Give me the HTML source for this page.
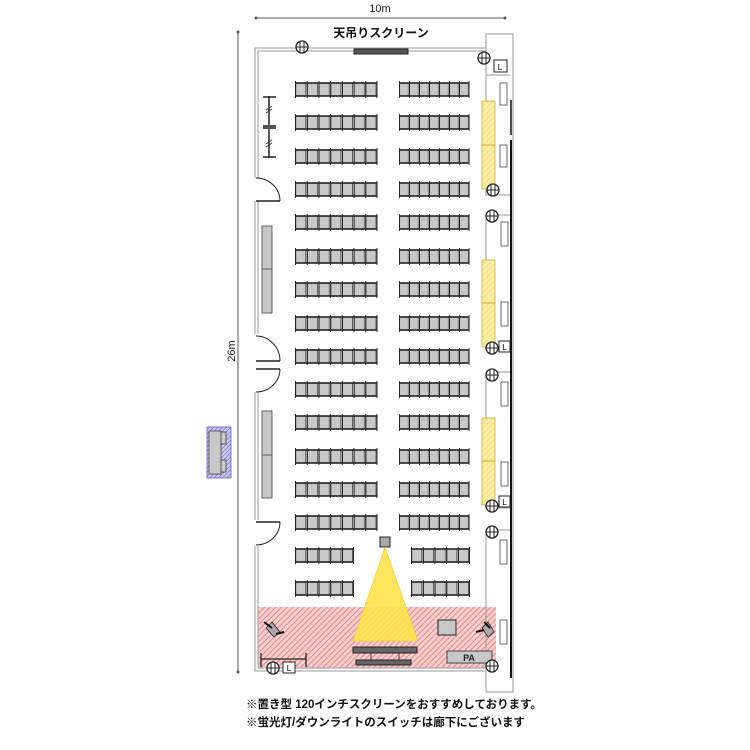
<!DOCTYPE html>
<html><head><meta charset="utf-8"><style>
html,body{margin:0;padding:0;background:#fff;}
svg{display:block;}
text{font-family:"Liberation Sans","Noto Sans CJK JP",sans-serif;}
</style></head><body>
<svg width="750" height="750" viewBox="0 0 750 750" xmlns="http://www.w3.org/2000/svg">
<defs>
<g id="ch">
<rect x="0.8" y="2" width="10" height="13" fill="#c8c8c8" stroke="#444" stroke-width="0.8"/>
<line x1="0" y1="2" x2="11.7" y2="2" stroke="#222" stroke-width="1.6"/>
<line x1="0" y1="15" x2="11.7" y2="15" stroke="#222" stroke-width="1.6"/>
<line x1="0.5" y1="0" x2="0.5" y2="17" stroke="#222" stroke-width="1"/>
</g>
<g id="r7">
<use href="#ch" x="0"/><use href="#ch" x="11.7"/><use href="#ch" x="23.4"/><use href="#ch" x="35.1"/><use href="#ch" x="46.8"/><use href="#ch" x="58.5"/><use href="#ch" x="70.2"/>
<line x1="82" y1="0" x2="82" y2="17" stroke="#222" stroke-width="1"/>
</g>
<g id="r7s" transform="scale(0.855,1)"><use href="#r7"/></g>
<g id="r5">
<use href="#ch" x="0"/><use href="#ch" x="11.7"/><use href="#ch" x="23.4"/><use href="#ch" x="35.1"/><use href="#ch" x="46.8"/>
<line x1="58.5" y1="0" x2="58.5" y2="17" stroke="#222" stroke-width="1"/>
</g>
<pattern id="hatch" width="4" height="4" patternUnits="userSpaceOnUse" patternTransform="rotate(45)">
<rect width="4" height="4" fill="#f7d0d0"/><line x1="0" y1="0" x2="0" y2="4" stroke="#e87070" stroke-width="1.6"/>
</pattern>
<pattern id="bhatch" width="3" height="3" patternUnits="userSpaceOnUse" patternTransform="rotate(45)">
<rect width="3" height="3" fill="#c8c8f0"/><line x1="0" y1="0" x2="0" y2="3" stroke="#5050c0" stroke-width="1"/>
</pattern>
<pattern id="yhatch" width="4" height="4" patternUnits="userSpaceOnUse" patternTransform="rotate(45)">
<rect width="4" height="4" fill="#fbeea0"/><line x1="0" y1="0" x2="0" y2="4" stroke="#e8d070" stroke-width="1"/>
</pattern>
<g id="out"><circle cx="0" cy="0" r="6" fill="#fff" stroke="#222" stroke-width="1.3"/><line x1="-2" y1="-5" x2="-2" y2="5" stroke="#222"/><line x1="2" y1="-5" x2="2" y2="5" stroke="#222"/><line x1="-6" y1="0" x2="6" y2="0" stroke="#222"/></g>
</defs>

<line x1="256" y1="18" x2="505" y2="18" stroke="#555" stroke-width="1"/>
<circle cx="256" cy="18" r="1.5" fill="#555"/><circle cx="505" cy="18" r="1.5" fill="#555"/>
<text x="380" y="12" font-size="11" text-anchor="middle" fill="#222">10m</text>
<line x1="238" y1="32" x2="238" y2="672" stroke="#555" stroke-width="1"/>
<circle cx="238" cy="32" r="1.5" fill="#555"/><circle cx="238" cy="672" r="1.5" fill="#555"/>
<text x="0" y="0" font-size="11" text-anchor="middle" fill="#222" transform="translate(235,351) rotate(-90)">26m</text>
<text x="381" y="37" font-size="12" font-weight="bold" text-anchor="middle" fill="#111">天吊りスクリーン</text>

<rect x="207" y="427" width="24" height="51" fill="url(#bhatch)" stroke="#6060c0" stroke-width="0.8"/>
<rect x="209" y="431" width="12" height="43" fill="#c8c8c8" stroke="#444" stroke-width="0.8"/>
<rect x="221" y="432" width="5" height="12" fill="#c8c8c8" stroke="#444" stroke-width="0.8"/>
<rect x="221" y="460" width="5" height="12" fill="#c8c8c8" stroke="#444" stroke-width="0.8"/>

<rect x="258" y="607" width="238" height="61" fill="url(#hatch)"/>

<g fill="none" stroke="#999" stroke-width="1">
<path d="M255 178 V48 H486 V34 H513"/>
<path d="M258 178 V51 H486"/>
<path d="M255 201 V334 M258 201 V334"/>
<path d="M255 392 V520 M258 392 V520"/>
<path d="M255 546 V671 H485 M258 546 V668 H486"/>
<path d="M486 48 V75 H510 M486 668 V692 H513 V34"/>
<path d="M486 75 V195 H510 M486 215 V350 H510 M486 372 V508 H510 M486 530 V668"/>
<path d="M486 215 H510 M486 372 H510 M486 530 H510"/>
</g>
<line x1="511" y1="140" x2="511" y2="678" stroke="#111" stroke-width="2"/>
<line x1="511" y1="100" x2="511" y2="135" stroke="#111" stroke-width="1.5"/>

<g fill="none" stroke="#222" stroke-width="1">
<line x1="256" y1="201" x2="280" y2="201" stroke-width="1.5"/><path d="M256 178 A24 23 0 0 1 280 201"/>
<line x1="256" y1="361" x2="280" y2="361" stroke-width="1.5"/><path d="M256 336 A24 25 0 0 1 280 361"/>
<line x1="256" y1="369" x2="280" y2="369" stroke-width="1.5"/><path d="M280 369 A24 23 0 0 1 256 392"/>
<line x1="256" y1="522" x2="280" y2="522" stroke-width="1.5"/><path d="M280 522 A24 23 0 0 1 256 545"/>
</g>

<rect x="262" y="226" width="10" height="87" fill="#c8c8c8" stroke="#444" stroke-width="0.8"/>
<line x1="262" y1="269" x2="272" y2="269" stroke="#444" stroke-width="0.8"/>
<rect x="262" y="411" width="10" height="87" fill="#c8c8c8" stroke="#444" stroke-width="0.8"/>
<line x1="262" y1="455" x2="272" y2="455" stroke="#444" stroke-width="0.8"/>
<g stroke="#222" stroke-width="1.5"><line x1="269" y1="96" x2="269" y2="158"/><line x1="263" y1="97" x2="276" y2="97"/><line x1="263" y1="157" x2="276" y2="157"/></g>
<rect x="263" y="125" width="13" height="4" fill="#555"/>
<g stroke="#333" stroke-width="0.8"><line x1="266" y1="110" x2="272" y2="106"/><line x1="266" y1="113" x2="272" y2="109"/><line x1="266" y1="144" x2="272" y2="140"/><line x1="266" y1="147" x2="272" y2="143"/></g>

<rect x="354" y="49" width="54" height="5" fill="#555" stroke="#222"/>
<use href="#out" x="302" y="47"/>
<use href="#out" x="484" y="58"/>
<rect x="494" y="60" width="13" height="12" fill="#fff" stroke="#222"/><text x="500" y="70" font-size="8" text-anchor="middle">L</text>

<g>
<use href="#r7" x="295" y="81"/><use href="#r7s" transform="translate(399,81)"/>
<use href="#r7" x="295" y="114"/><use href="#r7s" transform="translate(399,114)"/>
<use href="#r7" x="295" y="148"/><use href="#r7s" transform="translate(399,148)"/>
<use href="#r7" x="295" y="181"/><use href="#r7s" transform="translate(399,181)"/>
<use href="#r7" x="295" y="214"/><use href="#r7s" transform="translate(399,214)"/>
<use href="#r7" x="295" y="248"/><use href="#r7s" transform="translate(399,248)"/>
<use href="#r7" x="295" y="281"/><use href="#r7s" transform="translate(399,281)"/>
<use href="#r7" x="295" y="315"/><use href="#r7s" transform="translate(399,315)"/>
<use href="#r7" x="295" y="348"/><use href="#r7s" transform="translate(399,348)"/>
<use href="#r7" x="295" y="381"/><use href="#r7s" transform="translate(399,381)"/>
<use href="#r7" x="295" y="414"/><use href="#r7s" transform="translate(399,414)"/>
<use href="#r7" x="295" y="448"/><use href="#r7s" transform="translate(399,448)"/>
<use href="#r7" x="295" y="481"/><use href="#r7s" transform="translate(399,481)"/>
<use href="#r7" x="295" y="514"/><use href="#r7s" transform="translate(399,514)"/>
<use href="#r5" x="295" y="547"/><use href="#r5" x="411" y="547"/>
<use href="#r5" x="295" y="580"/><use href="#r5" x="411" y="580"/>
</g>

<rect x="482" y="101" width="13" height="88" fill="url(#yhatch)" stroke="#c8b040" stroke-width="0.8"/><line x1="482" y1="145" x2="495" y2="145" stroke="#c8b040"/>
<rect x="482" y="260" width="13" height="87" fill="url(#yhatch)" stroke="#c8b040" stroke-width="0.8"/><line x1="482" y1="303" x2="495" y2="303" stroke="#c8b040"/>
<rect x="482" y="418" width="13" height="87" fill="url(#yhatch)" stroke="#c8b040" stroke-width="0.8"/><line x1="482" y1="461" x2="495" y2="461" stroke="#c8b040"/>
<g fill="#fff" stroke="#444" stroke-width="0.8">
<rect x="500" y="83" width="7" height="22"/><rect x="500" y="145" width="7" height="22"/>
<rect x="501" y="222" width="7" height="24"/><rect x="501" y="302" width="7" height="24"/>
<rect x="501" y="382" width="7" height="24"/><rect x="501" y="462" width="7" height="24"/>
<rect x="500" y="540" width="7" height="24"/><rect x="500" y="620" width="7" height="24"/>
</g>
<use href="#out" x="493" y="190"/><use href="#out" x="492" y="216"/>
<use href="#out" x="492" y="348"/><use href="#out" x="492" y="375"/>
<use href="#out" x="492" y="506"/><use href="#out" x="492" y="532"/>
<rect x="499" y="341" width="11" height="11" fill="#fff" stroke="#222"/><text x="504.5" y="350" font-size="8" text-anchor="middle">L</text>
<rect x="499" y="496" width="11" height="11" fill="#fff" stroke="#222"/><text x="504.5" y="505" font-size="8" text-anchor="middle">L</text>

<rect x="380" y="537" width="10" height="10" fill="#aaa" stroke="#222"/>
<polygon points="385,547 353,641 418,641" fill="#fde24a" opacity="0.9"/>
<polygon points="385,547 353,641 418,641" fill="none" stroke="#f0c020" stroke-width="0.5"/>
<rect x="353" y="647" width="64" height="6" fill="#666" stroke="#222"/>
<rect x="356" y="660" width="55" height="5" fill="#666" stroke="#222"/>
<g stroke="#444"><line x1="371" y1="653" x2="371" y2="660"/><line x1="399" y1="653" x2="399" y2="660"/></g>
<rect x="438" y="620" width="18" height="15" fill="#c8c8c8" stroke="#222"/>
<rect x="447" y="651" width="45" height="12" fill="#c8c8c8" stroke="#444"/>
<text x="469" y="661" font-size="9" font-weight="bold" text-anchor="middle" fill="#222">PA</text>
<use href="#out" x="492" y="666"/>
<polygon points="266,628 272,622 280,632 274,637" fill="#aaa" stroke="#222" stroke-width="0.8"/>
<line x1="264" y1="622" x2="272" y2="628" stroke="#111" stroke-width="2"/><line x1="276" y1="634" x2="284" y2="632" stroke="#111" stroke-width="2"/>
<polygon points="482,628 488,622 494,632 488,637" fill="#aaa" stroke="#222" stroke-width="0.8"/>
<line x1="484" y1="622" x2="490" y2="628" stroke="#111" stroke-width="2"/><line x1="476" y1="632" x2="484" y2="630" stroke="#111" stroke-width="2"/>
<g stroke="#222" stroke-width="1.3"><line x1="261" y1="659" x2="306" y2="659"/><line x1="261" y1="653" x2="261" y2="667"/><line x1="306" y1="653" x2="306" y2="667"/></g>
<use href="#out" x="273" y="668"/>
<rect x="283" y="662" width="12" height="11" fill="#fff" stroke="#222"/><text x="289" y="671" font-size="8" text-anchor="middle">L</text>

<text x="246" y="708" font-size="11.5" font-weight="bold" fill="#111">※置き型 120インチスクリーンをおすすめしております。</text>
<text x="246" y="726" font-size="11.5" font-weight="bold" fill="#111">※蛍光灯/ダウンライトのスイッチは廊下にございます</text>
</svg>
</body></html>
